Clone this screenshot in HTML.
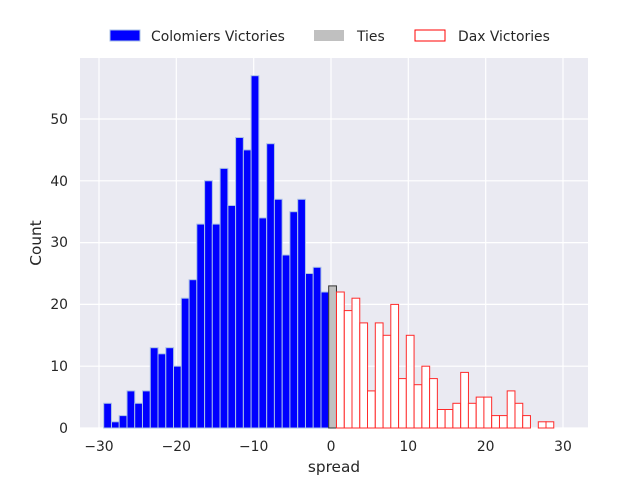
<!DOCTYPE html>
<html><head><meta charset="utf-8"><style>body{margin:0;background:#fff}svg{display:block;font-family:"DejaVu Sans","Liberation Sans",sans-serif}</style></head><body>
<svg width="640" height="480" xmlns="http://www.w3.org/2000/svg">
<rect x="80" y="58" width="508" height="370" fill="#eaeaf2"/>
<g stroke="#fff" stroke-width="1.2">
<line x1="99" y1="58" x2="99" y2="428"/><line x1="176.3" y1="58" x2="176.3" y2="428"/><line x1="253.7" y1="58" x2="253.7" y2="428"/><line x1="331" y1="58" x2="331" y2="428"/><line x1="408.3" y1="58" x2="408.3" y2="428"/><line x1="485.7" y1="58" x2="485.7" y2="428"/><line x1="563" y1="58" x2="563" y2="428"/>
<line x1="80" y1="428" x2="588" y2="428"/><line x1="80" y1="366.2" x2="588" y2="366.2"/><line x1="80" y1="304.4" x2="588" y2="304.4"/><line x1="80" y1="242.6" x2="588" y2="242.6"/><line x1="80" y1="180.8" x2="588" y2="180.8"/><line x1="80" y1="119" x2="588" y2="119"/>
</g>
<g fill="#0000ff" stroke="#a9c0e6" stroke-width="1">
<rect x="103.7" y="403.3" width="7.76" height="24.7"/><rect x="111.5" y="421.8" width="7.76" height="6.2"/><rect x="119.2" y="415.6" width="7.76" height="12.4"/><rect x="127" y="390.9" width="7.76" height="37.1"/><rect x="134.7" y="403.3" width="7.76" height="24.7"/><rect x="142.5" y="390.9" width="7.76" height="37.1"/><rect x="150.3" y="347.7" width="7.76" height="80.3"/><rect x="158" y="353.8" width="7.76" height="74.2"/><rect x="165.8" y="347.7" width="7.76" height="80.3"/><rect x="173.5" y="366.2" width="7.76" height="61.8"/><rect x="181.3" y="298.2" width="7.76" height="129.8"/><rect x="189.1" y="279.7" width="7.76" height="148.3"/><rect x="196.8" y="224.1" width="7.76" height="203.9"/><rect x="204.6" y="180.8" width="7.76" height="247.2"/><rect x="212.3" y="224.1" width="7.76" height="203.9"/><rect x="220.1" y="168.4" width="7.76" height="259.6"/><rect x="227.9" y="205.5" width="7.76" height="222.5"/><rect x="235.6" y="137.5" width="7.76" height="290.5"/><rect x="243.4" y="149.9" width="7.76" height="278.1"/><rect x="251.1" y="75.7" width="7.76" height="352.3"/><rect x="258.9" y="217.9" width="7.76" height="210.1"/><rect x="266.7" y="143.7" width="7.76" height="284.3"/><rect x="274.4" y="199.3" width="7.76" height="228.7"/><rect x="282.2" y="255" width="7.76" height="173"/><rect x="289.9" y="211.7" width="7.76" height="216.3"/><rect x="297.7" y="199.3" width="7.76" height="228.7"/><rect x="305.5" y="273.5" width="7.76" height="154.5"/><rect x="313.2" y="267.3" width="7.76" height="160.7"/><rect x="321" y="292" width="7.76" height="136"/>
</g>
<rect x="328.7" y="285.9" width="7.76" height="142.1" fill="#c0c0c0" stroke="#333" stroke-width="1"/>
<g fill="#fff" stroke="#ff2a2a" stroke-width="1">
<rect x="336.5" y="292" width="7.76" height="136"/><rect x="344.3" y="310.6" width="7.76" height="117.4"/><rect x="352" y="298.2" width="7.76" height="129.8"/><rect x="359.8" y="322.9" width="7.76" height="105.1"/><rect x="367.5" y="390.9" width="7.76" height="37.1"/><rect x="375.3" y="322.9" width="7.76" height="105.1"/><rect x="383.1" y="335.3" width="7.76" height="92.7"/><rect x="390.8" y="304.4" width="7.76" height="123.6"/><rect x="398.6" y="378.6" width="7.76" height="49.4"/><rect x="406.3" y="335.3" width="7.76" height="92.7"/><rect x="414.1" y="384.7" width="7.76" height="43.3"/><rect x="421.9" y="366.2" width="7.76" height="61.8"/><rect x="429.6" y="378.6" width="7.76" height="49.4"/><rect x="437.4" y="409.5" width="7.76" height="18.5"/><rect x="445.1" y="409.5" width="7.76" height="18.5"/><rect x="452.9" y="403.3" width="7.76" height="24.7"/><rect x="460.7" y="372.4" width="7.76" height="55.6"/><rect x="468.4" y="403.3" width="7.76" height="24.7"/><rect x="476.2" y="397.1" width="7.76" height="30.9"/><rect x="483.9" y="397.1" width="7.76" height="30.9"/><rect x="491.7" y="415.6" width="7.76" height="12.4"/><rect x="499.5" y="415.6" width="7.76" height="12.4"/><rect x="507.2" y="390.9" width="7.76" height="37.1"/><rect x="515" y="403.3" width="7.76" height="24.7"/><rect x="522.7" y="415.6" width="7.76" height="12.4"/><rect x="538.3" y="421.8" width="7.76" height="6.2"/><rect x="546" y="421.8" width="7.76" height="6.2"/>
</g>
<g font-size="13.9" fill="#262626" text-anchor="middle">
<text x="99" y="451">−30</text><text x="176.3" y="451">−20</text><text x="253.7" y="451">−10</text><text x="331" y="451">0</text><text x="408.3" y="451">10</text><text x="485.7" y="451">20</text><text x="563" y="451">30</text>
<text x="334" y="472" font-size="15.3">spread</text>
</g>
<g font-size="13.9" fill="#262626" text-anchor="end">
<text x="68" y="433">0</text><text x="68" y="371">10</text><text x="68" y="309">20</text><text x="68" y="247">30</text><text x="68" y="186">40</text><text x="68" y="124">50</text>
</g>
<text transform="translate(41,243) rotate(-90)" font-size="15.3" fill="#262626" text-anchor="middle">Count</text>
<rect x="110" y="30" width="30" height="11" fill="#0000ff" stroke="#a9c0e6"/>
<text x="151" y="41" font-size="13.9" fill="#262626">Colomiers Victories</text>
<rect x="314" y="30" width="30" height="11" fill="#c0c0c0"/>
<text x="357" y="41" font-size="13.9" fill="#262626">Ties</text>
<rect x="415" y="30" width="30" height="11" fill="#fff" stroke="#ff0000"/>
<text x="458" y="41" font-size="13.9" fill="#262626">Dax Victories</text>
</svg>
</body></html>
